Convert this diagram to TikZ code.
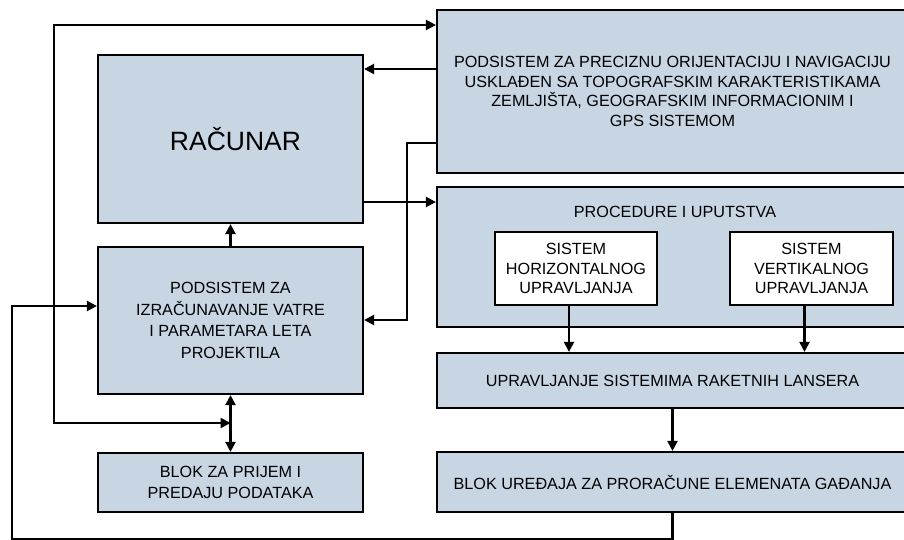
\documentclass[tikz,border=0pt]{standalone}
\usepackage{fontspec}
\setmainfont{Liberation Sans}
\usetikzlibrary{arrows.meta}
\definecolor{boxblue}{RGB}{200,214,228}
\tikzset{
  blk/.style={draw=black, fill=boxblue, line width=2.2pt, inner sep=0pt, align=center,
    font=\fontsize{16.2}{21.5}\selectfont},
  wbox/.style={draw=black, fill=white, line width=2.2pt, inner sep=0pt, align=center,
    font=\fontsize{16.2}{19.5}\selectfont},
  conn/.style={line width=2.2pt, -{Triangle[length=10pt,width=10pt]}},
  conn2/.style={line width=2.2pt, {Triangle[length=10pt,width=10pt]}-{Triangle[length=10pt,width=10pt]}},
}
\begin{document}
\begin{tikzpicture}[x=1pt,y=-1pt]
\useasboundingbox (0,0) rectangle (904,540);
\clip (0,0) rectangle (904,540);
% left column
\node[blk, minimum width=265pt, minimum height=168pt, font=\fontsize{26.5}{30}\selectfont] (rac) at (230.5,139) {\raisebox{-6pt}{\hspace*{10pt}RAČUNAR}};
\node[blk, minimum width=265pt, minimum height=147pt] (pod) at (230.5,320.5) {PODSISTEM ZA\\IZRAČUNAVANJE VATRE\\I PARAMETARA LETA\\PROJEKTILA};
\node[blk, minimum width=265pt, minimum height=59pt] (blok) at (230.5,482.5) {BLOK ZA PRIJEM I\\PREDAJU PODATAKA};
% right column
\node[blk, minimum width=471pt, minimum height=163pt, font=\fontsize{16.2}{19.5}\selectfont] (nav) at (672.5,91.5) {PODSISTEM ZA PRECIZNU ORIJENTACIJU I NAVIGACIJU\\USKLAĐEN SA TOPOGRAFSKIM KARAKTERISTIKAMA\\ZEMLJIŠTA, GEOGRAFSKIM INFORMACIONIM I\\GPS SISTEMOM};
\node[blk, minimum width=471pt, minimum height=140pt] (proc) at (672.5,257) {};
\node[font=\fontsize{16.2}{19.5}\selectfont, inner sep=0pt] (proclbl) at (675,212) {PROCEDURE I UPUTSTVA};
\node[wbox, minimum width=162pt, minimum height=73pt] (hor) at (576,268.5) {SISTEM\\HORIZONTALNOG\\UPRAVLJANJA};
\node[wbox, minimum width=163pt, minimum height=73pt] (ver) at (811.5,268.5) {SISTEM\\VERTIKALNOG\\UPRAVLJANJA};
\node[blk, minimum width=471pt, minimum height=55pt] (upr) at (672.5,380.5) {UPRAVLJANJE SISTEMIMA RAKETNIH LANSERA};
\node[blk, minimum width=471pt, minimum height=60pt] (bu) at (672.5,482) {BLOK UREĐAJA ZA PRORAČUNE ELEMENATA GAĐANJA};
% coordinates
\coordinate (j) at (pod.south |- 0,423);
\coordinate (lt) at (54,25);
\coordinate (bl) at (12,539);
% connectors
\draw[conn2] (j) -| (lt) -- (lt -| nav.west);
\draw[conn] (nav.west |- 0,69) -- (rac.east |- 0,69);
\draw[conn] (nav.west |- 0,143) -| (407,320) -- (pod.east |- 0,320);
\draw[conn] (rac.east |- 0,202) -- (proc.west |- 0,202);
\draw[conn] (pod.north) -- (rac.south);
\draw[conn2] (pod.south) -- (blok.north);
\draw[conn] ([xshift=-7pt]hor.south) -- ([xshift=-7pt]hor.south |- upr.north);
\draw[conn] ([xshift=-7pt]ver.south) -- ([xshift=-7pt]ver.south |- upr.north);
\draw[conn] (upr.south) -- (bu.north);
\draw[conn] (bu.south) |- (bl) |- (pod.west |- 0,306);
\end{tikzpicture}
\end{document}
